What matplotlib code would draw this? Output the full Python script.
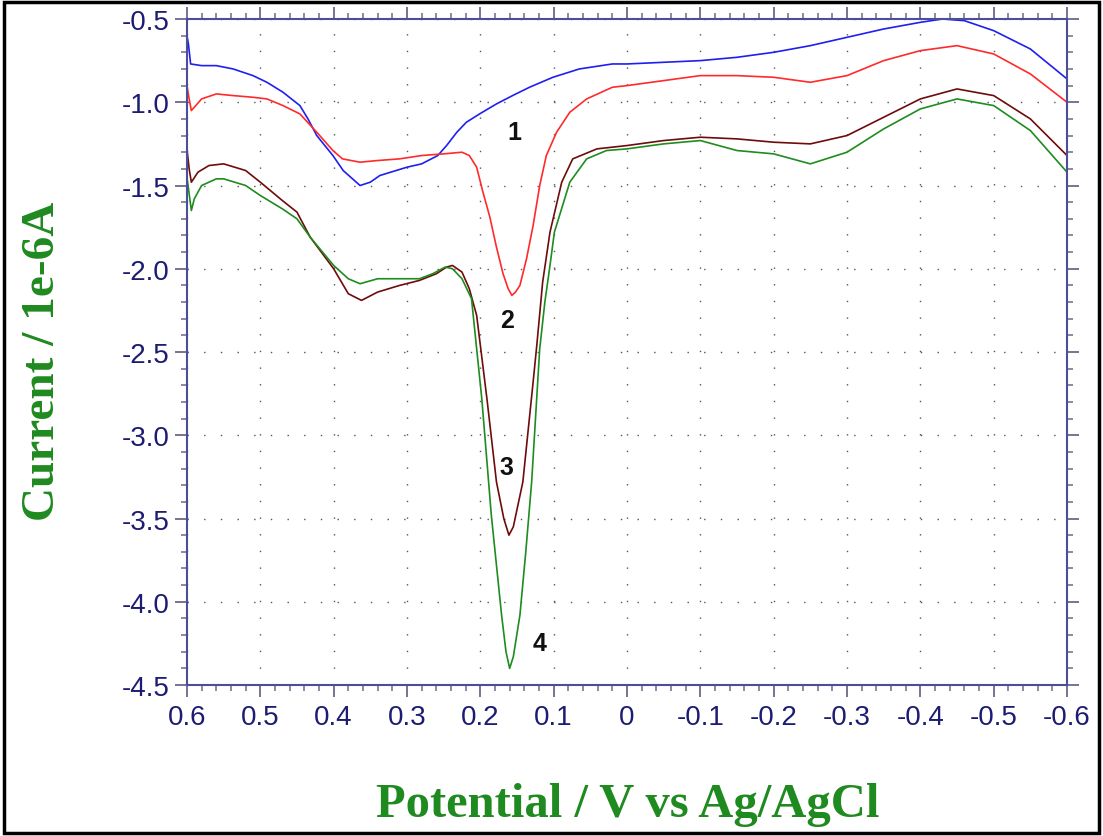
"""Square-wave voltammograms, curves 1-4, potential vs Ag/AgCl"""

import numpy as np
import matplotlib.pyplot as plt
from matplotlib.patches import Rectangle
from matplotlib.ticker import MultipleLocator

# curve 1 (blue)
pot_1 = [0.600, 0.598, 0.595, 0.58, 0.56, 0.537, 0.51, 0.491, 0.469, 0.446, 0.435,
         0.423, 0.401, 0.387, 0.364, 0.35, 0.337, 0.30, 0.28, 0.258, 0.246, 0.232,
         0.219, 0.201, 0.178, 0.156, 0.133, 0.101, 0.065, 0.02, 0.0, -0.05, -0.10,
         -0.15, -0.20, -0.25, -0.30, -0.35, -0.40, -0.43, -0.46, -0.50, -0.55, -0.60]
cur_1 = [-0.60, -0.65, -0.77, -0.78, -0.78, -0.80, -0.84, -0.88, -0.94, -1.02, -1.10,
         -1.20, -1.32, -1.41, -1.50, -1.48, -1.44, -1.39, -1.37, -1.32, -1.26, -1.18,
         -1.12, -1.07, -1.01, -0.96, -0.91, -0.85, -0.80, -0.77, -0.77, -0.76, -0.75,
         -0.73, -0.70, -0.66, -0.61, -0.56, -0.52, -0.50, -0.51, -0.57, -0.68, -0.86]

# curve 2 (red)
pot_2 = [0.600, 0.597, 0.594, 0.58, 0.56, 0.537, 0.51, 0.491, 0.469, 0.446, 0.423,
         0.401, 0.388, 0.364, 0.34, 0.31, 0.28, 0.25, 0.225, 0.215, 0.205, 0.197,
         0.187, 0.178, 0.169, 0.162, 0.157, 0.152, 0.146, 0.137, 0.128, 0.119,
         0.110, 0.096, 0.078, 0.055, 0.020, 0.0, -0.05, -0.10, -0.15, -0.20,
         -0.25, -0.30, -0.35, -0.40, -0.45, -0.50, -0.55, -0.60]
cur_2 = [-0.90, -0.98, -1.05, -0.98, -0.95, -0.96, -0.97, -0.98, -1.02, -1.07, -1.18,
         -1.29, -1.34, -1.36, -1.35, -1.34, -1.32, -1.31, -1.30, -1.32, -1.39, -1.53,
         -1.69, -1.87, -2.03, -2.12, -2.16, -2.14, -2.10, -1.94, -1.74, -1.50,
         -1.32, -1.18, -1.06, -0.98, -0.91, -0.90, -0.87, -0.84, -0.84, -0.85,
         -0.88, -0.84, -0.75, -0.69, -0.66, -0.71, -0.83, -1.00]

# curve 3 (dark red)
pot_3 = [0.600, 0.597, 0.594, 0.585, 0.57, 0.55, 0.52, 0.50, 0.47, 0.45, 0.432,
         0.40, 0.38, 0.362, 0.34, 0.31, 0.283, 0.26, 0.246, 0.238, 0.225, 0.215,
         0.205, 0.191, 0.178, 0.168, 0.161, 0.155, 0.142, 0.135, 0.128, 0.123,
         0.115, 0.105, 0.089, 0.074, 0.041, 0.0, -0.05, -0.10, -0.15, -0.20,
         -0.25, -0.30, -0.35, -0.40, -0.45, -0.50, -0.55, -0.60]
cur_3 = [-1.28, -1.40, -1.48, -1.42, -1.38, -1.37, -1.41, -1.48, -1.59, -1.66, -1.81,
         -2.00, -2.15, -2.19, -2.14, -2.10, -2.07, -2.03, -1.99, -1.98, -2.02, -2.12,
         -2.28, -2.78, -3.28, -3.50, -3.60, -3.55, -3.28, -2.98, -2.68, -2.46,
         -2.08, -1.78, -1.48, -1.34, -1.28, -1.26, -1.23, -1.21, -1.22, -1.24,
         -1.25, -1.20, -1.09, -0.98, -0.92, -0.96, -1.10, -1.32]

# curve 4 (green)
pot_4 = [0.600, 0.597, 0.594, 0.59, 0.58, 0.56, 0.55, 0.52, 0.50, 0.47, 0.45,
         0.432, 0.40, 0.38, 0.364, 0.34, 0.31, 0.283, 0.265, 0.248, 0.238, 0.225,
         0.212, 0.198, 0.185, 0.171, 0.165, 0.160, 0.155, 0.146, 0.138, 0.130,
         0.119, 0.112, 0.105, 0.099, 0.078, 0.055, 0.028, 0.0, -0.05, -0.10,
         -0.15, -0.20, -0.25, -0.30, -0.35, -0.40, -0.45, -0.50, -0.55, -0.60]
cur_4 = [-1.45, -1.55, -1.65, -1.58, -1.50, -1.46, -1.46, -1.50, -1.56, -1.64, -1.70,
         -1.81, -1.98, -2.06, -2.09, -2.06, -2.06, -2.06, -2.03, -1.99, -2.00, -2.06,
         -2.18, -2.78, -3.48, -4.08, -4.30, -4.40, -4.33, -4.08, -3.70, -3.28,
         -2.48, -2.20, -1.98, -1.78, -1.48, -1.34, -1.29, -1.28, -1.25, -1.23,
         -1.29, -1.31, -1.37, -1.30, -1.16, -1.04, -0.98, -1.02, -1.17, -1.42]

curve_labels = ['1', '2', '3', '4']
label_pot = [0.153, 0.163, 0.164, 0.119]
label_cur = [-1.18, -2.31, -3.19, -4.25]

plt.rcParams['axes.unicode_minus'] = False

navy = '#1c1c72'
spine = '#4d4d9e'
green = '#1f8a1f'

fig = plt.figure(figsize=(11.03, 8.37), dpi=100)
ax = fig.add_axes([0.1695, 0.1804, 0.7979, 0.7957])

ax.plot(pot_1, cur_1, color='#1f1ff0', lw=1.2)
ax.plot(pot_2, cur_2, color='#ff2a2a', lw=1.2)
ax.plot(pot_3, cur_3, color='#6e0b0b', lw=1.2)
ax.plot(pot_4, cur_4, color='#1e8c1e', lw=1.2)

for t, x, y in zip(curve_labels, label_pot, label_cur):
    ax.text(x, y, t, fontsize=18, fontweight='bold', family='Liberation Sans',
            ha='center', va='center', color='#111111')

ax.set_xlim(0.6, -0.6)
ax.set_ylim(-4.5, -0.5)
ax.xaxis.set_minor_locator(MultipleLocator(0.02))
ax.yaxis.set_major_locator(MultipleLocator(0.5))
ax.yaxis.set_minor_locator(MultipleLocator(0.1))
ax.set_xticks(np.round(np.arange(0.6, -0.61, -0.1), 1))
ax.set_xticklabels(['0.6', '0.5', '0.4', '0.3', '0.2', '0.1', '0',
                    '-0.1', '-0.2', '-0.3', '-0.4', '-0.5', '-0.6'])

ax.grid(True, which='major', color='#555555', lw=1.0, linestyle=(0, (1, 11)))

for s in ax.spines.values():
    s.set_color(spine)
    s.set_linewidth(1.5)

ax.tick_params(which='both', direction='out', top=True, right=True,
               color='#6a6a8a', labelcolor=navy, labelsize=20,
               labelfontfamily='Liberation Sans')
ax.tick_params(which='major', length=8.5, width=1.3)
ax.tick_params(which='minor', length=4.3, width=1.1)
ax.tick_params(axis='x', pad=5)
ax.tick_params(axis='y', pad=4)

fig.text(0.569, 0.0239, 'Potential / V vs Ag/AgCl', ha='center', va='baseline',
         fontsize=35, fontweight='bold', family='Liberation Serif', color=green)
fig.text(0.039, 0.5687, 'Current / 1e-6A', ha='center', va='center', rotation=90,
         fontsize=34, fontweight='bold', family='Liberation Serif', color=green)

fig.patches.append(Rectangle((0.004, 0.004), 0.992, 0.992, transform=fig.transFigure,
                             fill=False, edgecolor='black', lw=2.5))

fig.savefig('out.png', dpi=100)
